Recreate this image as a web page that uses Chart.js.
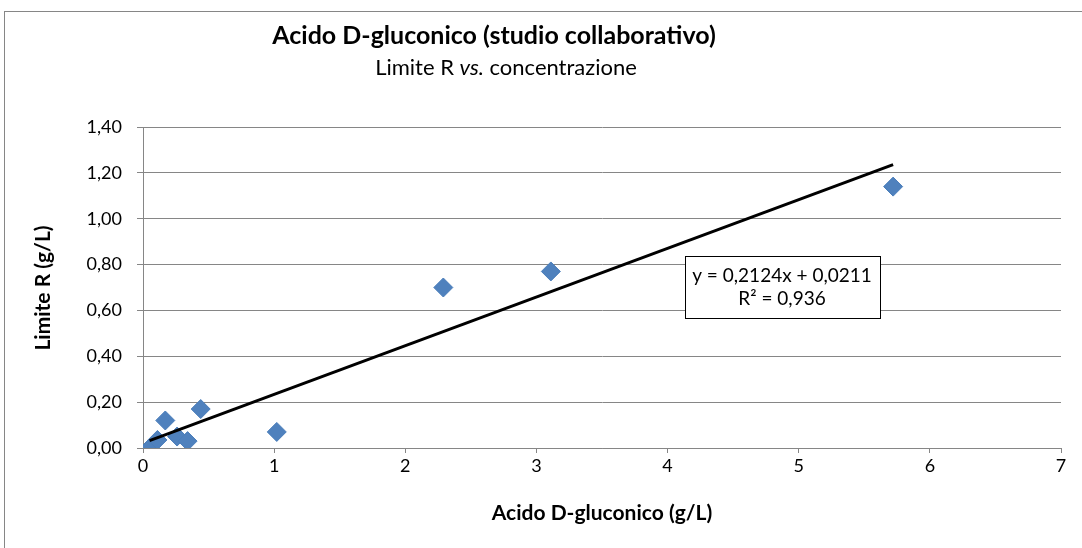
<!DOCTYPE html>
<html>
<head>
<meta charset="utf-8">
<script src="https://cdn.jsdelivr.net/npm/chart.js@4"></script>
<style>
  html, body { margin: 0; padding: 0; background: #fff; }
  #wrap { position: relative; width: 1082px; height: 548px; }
</style>
</head>
<body>
<div id="wrap"><canvas id="chart" width="1082" height="548"></canvas></div>
<script>
// values
let concentrazione = [0.05, 0.11, 0.17, 0.26, 0.34, 0.44, 1.02, 2.29, 3.11, 5.72];
let limiteR = [0.00, 0.035, 0.12, 0.05, 0.03, 0.17, 0.07, 0.70, 0.77, 1.14];
let trendX = [0.05, 5.72];
let trendY = [0.032, 1.236];
let xTicks = [0, 1, 2, 3, 4, 5, 6, 7];
let yTicks = [0, 0.2, 0.4, 0.6, 0.8, 1.0, 1.2, 1.4];
let titolo = 'Acido D-gluconico (studio collaborativo)';
let equazione = ['y = 0,2124x + 0,0211', 'R² = 0,936'];

const FONT = 'Lato, "Open Sans", sans-serif';
const GRID = '#868686';

function toPoints(xs, ys) {
  let pts = [];
  for (let i = 0; i < xs.length; i++) {
    pts.push({x: xs[i], y: ys[i]});
  };
  return pts;
};

let decorations = {
  id: 'decorations',
  beforeDraw(chart) {
    let ctx = chart.ctx;
    ctx.save();
    ctx.fillStyle = '#fff';
    ctx.fillRect(0, 0, chart.width, chart.height);
    ctx.strokeStyle = GRID;
    ctx.lineWidth = 1;
    ctx.strokeRect(4.5, 11.5, 1200, 1000);
    ctx.restore();
  },
  afterDraw(chart) {
    let ctx = chart.ctx;
    ctx.save();
    ctx.fillStyle = '#000';
    ctx.textAlign = 'center';
    ctx.textBaseline = 'middle';
    // titles
    ctx.font = 'bold 25px ' + FONT;
    ctx.fillText(titolo, 494, 36);
    let sub = '22px ' + FONT, subIt = 'italic 22px ' + FONT;
    let pre = 'Limite R ', it = 'vs.', post = ' concentrazione';
    ctx.font = sub;
    let wPre = ctx.measureText(pre).width, wPost = ctx.measureText(post).width;
    ctx.font = subIt;
    let wIt = ctx.measureText(it).width;
    let x0 = 506 - (wPre + wIt + wPost) / 2;
    ctx.textAlign = 'left';
    ctx.font = sub;
    ctx.fillText(pre, x0, 68);
    ctx.font = subIt;
    ctx.fillText(it, x0 + wPre, 68);
    ctx.font = sub;
    ctx.fillText(post, x0 + wPre + wIt, 68);
    // axis titles
    ctx.textAlign = 'center';
    ctx.font = 'bold 21px ' + FONT;
    ctx.fillText('Acido D-gluconico (g/L)', 602, 513);
    ctx.save();
    ctx.translate(43, 288);
    ctx.rotate(-Math.PI / 2);
    ctx.fillText('Limite R (g/L)', 0, 0);
    ctx.restore();
    // equation box
    ctx.fillStyle = '#fff';
    ctx.fillRect(685, 256, 195, 62);
    ctx.strokeStyle = '#000';
    ctx.lineWidth = 1;
    ctx.strokeRect(685.5, 256.5, 195, 62);
    ctx.fillStyle = '#000';
    ctx.font = '19px ' + FONT;
    ctx.fillText(equazione[0], 782, 276);
    ctx.fillText(equazione[1], 782, 299);
    ctx.restore();
  }
};

new Chart(document.getElementById('chart'), {
  type: 'scatter',
  data: {
    datasets: [
      {
        label: 'Limite R',
        data: toPoints(concentrazione, limiteR),
        pointStyle: 'rectRot',
        pointRadius: 9.5,
        pointBackgroundColor: '#4F81BD',
        pointBorderColor: '#4A7EBB',
        pointBorderWidth: 1,
        order: 2
      },
      {
        label: 'Lineare',
        type: 'line',
        data: toPoints(trendX, trendY),
        borderColor: '#000',
        borderWidth: 3,
        pointRadius: 0,
        fill: false,
        order: 1
      }
    ]
  },
  plugins: [decorations],
  options: {
    responsive: false,
    animation: false,
    layout: { padding: { left: 0, top: 127, right: 21, bottom: 0 } },
    plugins: {
      legend: { display: false },
      tooltip: { enabled: false },
      title: { display: false }
    },
    scales: {
      x: {
        type: 'linear',
        min: 0, max: 7,
        afterBuildTicks: (s) => { s.ticks = xTicks.map(v => ({value: v})); },
        afterFit: (s) => { s.height = 100; },
        grid: { drawOnChartArea: false, drawTicks: true, tickLength: 5, color: GRID },
        border: { color: GRID, width: 1 },
        ticks: { color: '#000', font: { family: FONT, size: 18 }, padding: 2, maxRotation: 0 }
      },
      y: {
        type: 'linear',
        min: 0, max: 1.4,
        afterBuildTicks: (s) => { s.ticks = yTicks.map(v => ({value: v})); },
        afterFit: (s) => { s.width = 143; },
        grid: { color: GRID, tickLength: 6 },
        border: { color: GRID, width: 1 },
        ticks: {
          color: '#000', font: { family: FONT, size: 18 }, padding: 15,
          callback: (v) => v.toFixed(2).replace('.', ',')
        }
      }
    }
  }
});
</script>
</body>
</html>
